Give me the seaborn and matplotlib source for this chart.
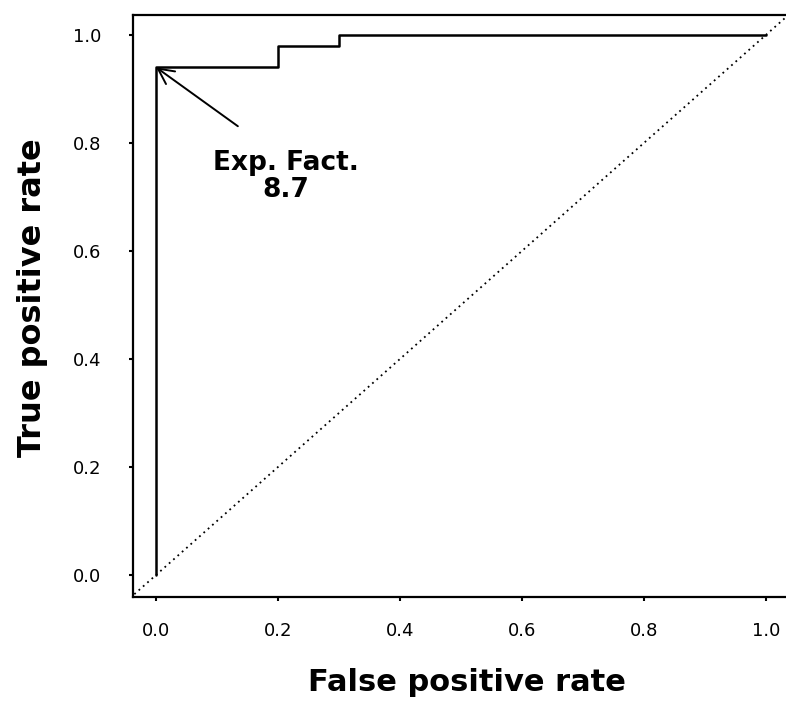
import matplotlib
matplotlib.use("Agg")
import matplotlib.pyplot as plt
import seaborn as sns
import pandas as pd

# ROC curve points
fpr = [0.0, 0.0, 0.2, 0.2, 0.3, 0.3, 1.0]
tpr = [0.0, 0.94, 0.94, 0.98, 0.98, 1.0, 1.0]
# chance diagonal
diag = [-0.05, 1.05]
tick_vals = [0.0, 0.2, 0.4, 0.6, 0.8, 1.0]
tick_labels = ["0.0", "0.2", "0.4", "0.6", "0.8", "1.0"]
annot_text = "Exp. Fact.\n8.7"
annot_point = (0.0, 0.94)

sns.set_style("ticks")
plt.rcParams["font.family"] = ["DejaVu Sans"]
plt.rcParams["text.color"] = "black"
plt.rcParams["axes.labelcolor"] = "black"

fig = plt.figure(figsize=(7.86, 7.07), dpi=100)
W, H = 786, 707
left, right, bottom, top = 133, 800, 597, 15
ax = fig.add_axes([left / W, 1 - bottom / H, (right - left) / W, (bottom - top) / H])

df = pd.DataFrame({"fpr": fpr, "tpr": tpr})
sns.lineplot(data=df, x="fpr", y="tpr", sort=False, estimator=None,
             color="black", linewidth=1.8, ax=ax)
ax.plot(diag, diag, color="black", linestyle=(0, (1, 2.2)), linewidth=1.3)

ax.set_xlim(-0.038, 1.056)
ax.set_ylim(-0.041, 1.037)
ax.set_xticks(tick_vals)
ax.set_xticklabels(tick_labels)
ax.set_yticks(tick_vals)
ax.set_yticklabels(tick_labels)
ax.tick_params(axis="both", direction="out", length=3, width=1.5,
               labelsize=13, colors="black")
ax.tick_params(axis="x", pad=15)
ax.tick_params(axis="y", pad=20)
for s in ax.spines.values():
    s.set_linewidth(1.6)
    s.set_color("black")
ax.spines["right"].set_visible(False)

ax.set_xlabel("False positive rate", fontsize=22, fontweight="bold", labelpad=20)
ax.set_ylabel("True positive rate", fontsize=23, fontweight="bold")
ax.yaxis.set_label_coords(-0.128, 0.515)

ax.annotate("", xy=annot_point, xytext=(0.134, 0.831),
            arrowprops=dict(arrowstyle="->", lw=1.4, color="black",
                            mutation_scale=28, shrinkA=0, shrinkB=0))
ax.text(0.213, 0.738, annot_text, ha="center", va="center", fontsize=19,
        fontweight="bold", linespacing=1.05)

fig.savefig("out.png", dpi=100)
